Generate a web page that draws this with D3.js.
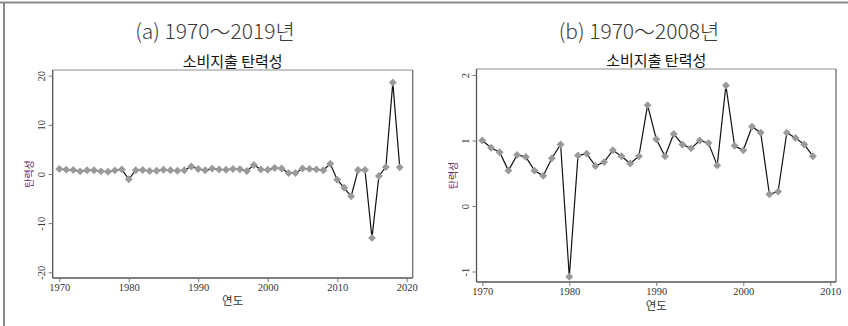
<!DOCTYPE html>
<html>
<head>
<meta charset="utf-8">
<script src="https://cdn.jsdelivr.net/npm/d3@7"></script>
<style>
  html, body { margin: 0; padding: 0; background: #fff; }
  svg { display: block; }
</style>
</head>
<body>
<svg id="chart" width="848" height="326"></svg>
<script>
// Consumption-spending elasticity by year
const years = d3.range(1970, 2020);
const elasticity = [
  1.00, 0.89, 0.82, 0.54, 0.78, 0.75, 0.54, 0.46, 0.73, 0.94,
  -1.08, 0.77, 0.80, 0.61, 0.67, 0.85, 0.76, 0.65, 0.76, 1.54,
  1.02, 0.76, 1.10, 0.94, 0.88, 1.00, 0.96, 0.62, 1.84, 0.92,
  0.85, 1.21, 1.12, 0.18, 0.22, 1.12, 1.04, 0.94, 0.76, 2.10,
  -1.16, -2.80, -4.55, 0.80, 0.80, -13.0, -0.40, 1.40, 18.6, 1.35
];

const panelTitles = ["(a) 1970～2019년", "(b) 1970～2008년"];
const plotTitle = "소비지출 탄력성";
const yTitle = "탄력성";
const xTitle = "연도";

const xTicksA = [1970, 1980, 1990, 2000, 2010, 2020];
const yTicksA = [-20, -10, 0, 10, 20];
const xTicksB = [1970, 1980, 1990, 2000, 2010];
const yTicksB = [-1, 0, 1, 2];

const series = years.map((y, i) => ({ year: y, value: elasticity[i] }));
const seriesB = series.filter(d => d.year <= 2008);

const svg = d3.select("#chart");

// outer frame: top and left edges
svg.append("line").attr("x1", 0).attr("x2", 848).attr("y1", 2.5).attr("y2", 2.5)
  .attr("stroke", "#8a8a8a").attr("stroke-width", 2);
svg.append("line").attr("x1", 4).attr("x2", 4).attr("y1", 2).attr("y2", 326)
  .attr("stroke", "#8a8a8a").attr("stroke-width", 2);

const serif = "'Liberation Serif', 'DejaVu Serif', serif";
const sans = "'Noto Sans CJK KR', 'Noto Sans', sans-serif";
const plainNum = d => String(d);

function panel(cfg) {
  const g = svg.append("g");
  const x = d3.scaleLinear().domain(cfg.xDomain).range(cfg.xRange);
  const y = d3.scaleLinear().domain(cfg.yDomain).range(cfg.yRange);
  const f = cfg.frame; // [left, top, right, bottom]

  // panel title
  g.append("text").attr("x", cfg.titleX).attr("y", 39)
    .attr("text-anchor", "middle").attr("font-family", sans)
    .attr("font-size", 21).attr("font-weight", 300).attr("fill", "#3a3a3a")
    .text(cfg.title);

  // plot title
  g.append("text").attr("x", (f[0] + f[2]) / 2).attr("y", f[1] - 3)
    .attr("text-anchor", "middle").attr("font-family", sans)
    .attr("font-size", 15).attr("fill", "#111")
    .text(plotTitle);

  // plot region outline
  g.append("line").attr("x1", f[0]).attr("x2", f[2]).attr("y1", f[1]).attr("y2", f[1])
    .attr("stroke", "#b4b4b4").attr("stroke-width", 1.3);
  g.append("line").attr("x1", f[2]).attr("x2", f[2]).attr("y1", f[1]).attr("y2", f[3])
    .attr("stroke", "#6e6e6e").attr("stroke-width", 1.3);
  g.append("line").attr("x1", f[0]).attr("x2", f[0]).attr("y1", f[1]).attr("y2", f[3])
    .attr("stroke", "#555").attr("stroke-width", 1.3);
  g.append("line").attr("x1", f[0]).attr("x2", f[2]).attr("y1", f[3]).attr("y2", f[3])
    .attr("stroke", "#555").attr("stroke-width", 1.3);

  // x axis
  const xa = g.append("g").attr("transform", `translate(0,${f[3]})`)
    .call(d3.axisBottom(x).tickValues(cfg.xTicks).tickFormat(plainNum).tickSize(4).tickPadding(2));
  xa.select(".domain").remove();
  xa.selectAll("line").attr("stroke", "#777");
  xa.selectAll("text").attr("font-family", serif).attr("font-size", 10.5).attr("fill", "#333");

  // y axis with rotated labels
  const ya = g.append("g").attr("transform", `translate(${f[0]},0)`)
    .call(d3.axisLeft(y).tickValues(cfg.yTicks).tickFormat(plainNum).tickSize(4));
  ya.select(".domain").remove();
  ya.selectAll("line").attr("stroke", "#777");
  ya.selectAll("text")
    .attr("x", 0).attr("y", -8).attr("dy", 0)
    .attr("transform", "rotate(-90)")
    .attr("text-anchor", "middle")
    .attr("font-family", serif).attr("font-size", 10.5).attr("fill", "#333");

  // axis titles
  g.append("text").attr("transform", `translate(${cfg.yTitleX},${(f[1] + f[3]) / 2}) rotate(-90)`)
    .attr("text-anchor", "middle").attr("font-family", sans)
    .attr("font-size", 10).attr("fill", "#6a2e5e").text(yTitle);
  g.append("text").attr("x", (f[0] + f[2]) / 2).attr("y", f[3] + cfg.xTitleDy)
    .attr("text-anchor", "middle").attr("font-family", sans)
    .attr("font-size", 11.5).attr("fill", "#333").text(xTitle);

  // line and markers
  const line = d3.line().x(d => x(d.year)).y(d => y(d.value));
  g.append("path").datum(cfg.data).attr("d", line)
    .attr("fill", "none").attr("stroke", "#111").attr("stroke-width", 1.2);
  g.selectAll(".pt").data(cfg.data).enter().append("path")
    .attr("class", "pt")
    .attr("transform", d => `translate(${x(d.year)},${y(d.value)})`)
    .attr("d", d3.symbol(d3.symbolDiamond2, 40))
    .attr("fill", "#9a9a9a");
}

panel({
  title: panelTitles[0], titleX: 215,
  data: series,
  xDomain: [1970, 2020], xRange: [59.3, 406.7],
  yDomain: [-20, 20], yRange: [272.3, 75.7],
  frame: [52.7, 70, 412.7, 278],
  xTicks: xTicksA, yTicks: yTicksA,
  yTitleX: 33, xTitleDy: 27
});

panel({
  title: panelTitles[1], titleX: 639,
  data: seriesB,
  xDomain: [1970, 2010], xRange: [482.3, 830.3],
  yDomain: [-1, 2], yRange: [271.5, 75],
  frame: [476.5, 69, 836, 282],
  xTicks: xTicksB, yTicks: yTicksB,
  yTitleX: 457, xTitleDy: 28
});
</script>
</body>
</html>
